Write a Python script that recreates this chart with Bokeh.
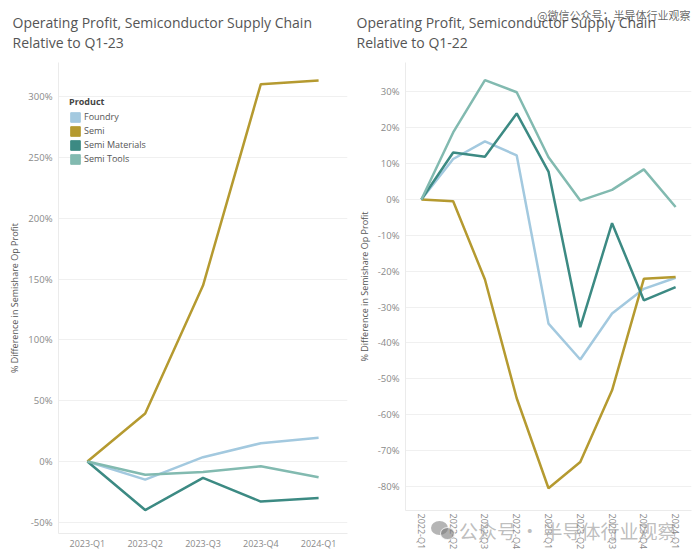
from bokeh.plotting import figure
from bokeh.models import (ColumnDataSource, FactorRange, Range1d, Title, Legend, LegendItem,
                          PrintfTickFormatter, FixedTicker, Div)
from bokeh.layouts import row
from bokeh.embed import file_html
from bokeh.resources import INLINE

# ---------------- data ----------------
products = ["Foundry", "Semi", "Semi Materials", "Semi Tools"]
colors = ["#a3c9df", "#b59a30", "#3c8a83", "#82bab0"]

quarters_23 = ["2023-Q1", "2023-Q2", "2023-Q3", "2023-Q4", "2024-Q1"]
foundry_23 = [0, -15, 3.5, 15, 19.5]
semi_23 = [0, 39.5, 144.7, 310.5, 313.5]
materials_23 = [0, -40, -13.5, -33, -30]
tools_23 = [0, -11, -8.7, -4, -13]

quarters_22 = ["2022-Q1", "2022-Q2", "2022-Q3", "2022-Q4", "2023-Q1",
               "2023-Q2", "2023-Q3", "2023-Q4", "2024-Q1"]
foundry_22 = [0, 11.3, 16.2, 12.3, -34.6, -44.6, -31.8, -24.9, -21.8]
semi_22 = [0, -0.5, -22.3, -55.4, -80.5, -73.2, -53.2, -22.1, -21.6]
materials_22 = [0, 13.1, 11.9, 24.0, 7.8, -35.6, -6.6, -28.1, -24.4]
tools_22 = [0, 18.7, 33.3, 29.9, 11.8, -0.3, 2.7, 8.4, -2.1]

ticks_23 = [-50, 0, 50, 100, 150, 200, 250, 300]
ticks_22 = [-80, -70, -60, -50, -40, -30, -20, -10, 0, 10, 20, 30]

title_line1 = "Operating Profit, Semiconductor Supply Chain"
title_left2 = "Relative to Q1-23"
title_right2 = "Relative to Q1-22"
y_label = "% Difference in Semishare Op Profit"
watermark_top = "@微信公众号：半导体行业观察"
watermark_bottom = "公众号 · 半导体行业观察"

FONT = "Open Sans"
TITLE_COLOR = "#555555"
TICK_COLOR = "#8a8a8a"
GRID = "#f0f0f0"
NAN = float("nan")


def base_fig(quarters, yr, ticks, width, mb_left, mb_right, mb_bottom, line2, title_offset):
    p = figure(width=width, height=552, x_range=FactorRange(*quarters),
               y_range=Range1d(*yr), output_backend="svg", toolbar_location=None,
               min_border_left=mb_left, min_border_right=mb_right, min_border_top=62,
               min_border_bottom=mb_bottom, background_fill_color="white",
               border_fill_color="white")
    p.frame_align = False
    p.outline_line_color = None
    p.add_layout(Title(text=title_line1 + "\n" + line2, text_font=FONT,
                       text_font_size="14px", text_font_style="normal",
                       text_color=TITLE_COLOR, text_line_height=1.07,
                       align="left", offset=title_offset, standoff=20), "above")
    p.xgrid.grid_line_color = None
    p.ygrid.grid_line_color = GRID
    p.yaxis.ticker = FixedTicker(ticks=ticks)
    p.yaxis.formatter = PrintfTickFormatter(format="%d%%")
    for ax in (p.xaxis[0], p.yaxis[0]):
        ax.axis_line_color = "#ebebeb"
        ax.major_tick_line_color = None
        ax.minor_tick_line_color = None
        ax.major_tick_out = 0
        ax.major_tick_in = 0
        ax.minor_tick_out = 0
        ax.major_label_text_color = TICK_COLOR
        ax.major_label_text_font = FONT
        ax.major_label_text_font_size = "9.5px"
        ax.major_label_standoff = 6
    p.xaxis.major_label_standoff = 3
    p.xaxis.major_label_text_font_size = "9px"
    p.yaxis.axis_label = y_label
    p.yaxis.axis_label_text_font = FONT
    p.yaxis.axis_label_text_font_size = "9px"
    p.yaxis.axis_label_text_font_style = "normal"
    p.yaxis.axis_label_text_color = "#555555"
    p.yaxis.axis_label_standoff = 4
    return p


# ---------------- left chart ----------------
p1 = base_fig(quarters_23, (-59.3, 328.3), ticks_23, 350, 58, 3, 15, title_left2, -46)
src1 = ColumnDataSource(dict(q=quarters_23, Foundry=foundry_23, Semi=semi_23,
                             Materials=materials_23, Tools=tools_23))
for col, c in zip(["Foundry", "Semi", "Materials", "Tools"], colors):
    p1.line("q", col, source=src1, line_color=c, line_width=2.5)

items = []
for name, c in zip(products, colors):
    r = p1.quad(left=[NAN], right=[NAN], bottom=[NAN], top=[NAN],
                fill_color=c, line_color=c)
    items.append(LegendItem(label=name, renderers=[r]))
leg = Legend(items=items, location=(11, 368), title="Product",
             title_text_font=FONT, title_text_font_size="9px", title_text_font_style="bold",
             title_text_color="#444444", label_text_font=FONT, label_text_font_size="9px",
             label_text_color="#555555", glyph_width=12, glyph_height=12,
             label_height=12, spacing=1, padding=2, label_standoff=3,
             border_line_color=None, background_fill_alpha=0, title_standoff=2)
p1.add_layout(leg, "center")

# ---------------- right chart ----------------
p2 = base_fig(quarters_22, (-86.7, 38.2), ticks_22, 342, 55, 1, 42, title_right2, -49)
p2.xaxis.major_label_orientation = "vertical"
src2 = ColumnDataSource(dict(q=quarters_22, Foundry=foundry_22, Semi=semi_22,
                             Materials=materials_22, Tools=tools_22))
for col, c in zip(["Foundry", "Semi", "Materials", "Tools"], colors):
    p2.line("q", col, source=src2, line_color=c, line_width=2.5)

# watermark overlay (text on top of the right chart)
wm_html = (
    '<div style="position:relative;width:1px;height:1px;">'
    '<span style="position:absolute;left:-160px;top:-8px;white-space:nowrap;'
    'font-family:\'Noto Sans CJK SC\';font-size:11px;color:rgba(51,51,51,0.75);">'
    + watermark_top + '</span>'
    '<span style="position:absolute;left:-266px;top:505px;width:17px;height:14px;'
    'border-radius:50%;background:rgba(120,120,120,0.55);"></span>'
    '<span style="position:absolute;left:-257px;top:511px;width:15px;height:13px;'
    'border-radius:50%;background:rgba(120,120,120,0.6);border:1px solid rgba(255,255,255,0.8);"></span>'
    '<span style="position:absolute;left:-238px;top:501px;white-space:nowrap;'
    'font-family:\'Noto Sans CJK SC\';font-size:19px;color:rgba(136,136,136,0.55);">'
    + watermark_bottom + '</span></div>'
)
wm = Div(text=wm_html, width=1, height=1)

layout = row(p1, p2, wm, spacing=0)
open("out.html", "w").write(file_html(layout, INLINE))
